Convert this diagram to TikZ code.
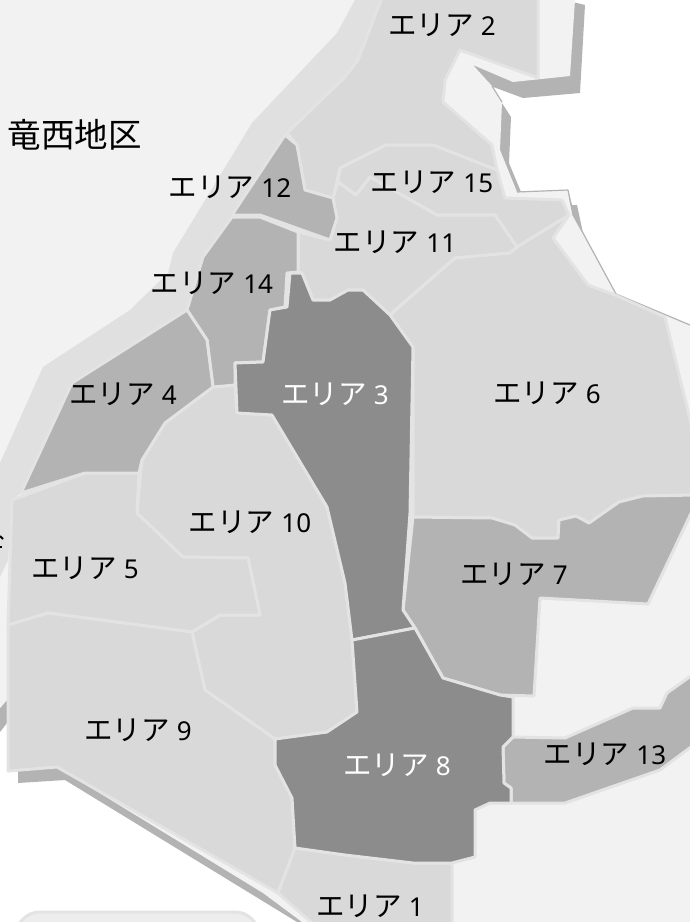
\documentclass[tikz,border=0pt]{standalone}
\usepackage{fontspec}
\setmainfont{Noto Sans CJK JP}
\newfontfamily\digitfont{Noto Sans}
\newcommand{\areaname}[1]{エリア\hspace{7pt}{\digitfont\fontsize{26}{30}\selectfont #1}}
\tikzset{
  x=1pt,y=-1pt,
  area/.style={draw=edgegrey,line width=3pt,line join=round},
  light/.style={area,fill=lightarea},
  mid/.style={area,fill=midarea},
  dark/.style={area,fill=darkarea},
  lab/.style={inner sep=0pt,font=\fontsize{28.5}{32}\selectfont,text=black},
  labw/.style={lab,text=white},
  shadow/.style={fill=shadowgrey},
}
\definecolor{edgegrey}{HTML}{E3E3E3}
\definecolor{lightarea}{HTML}{D9D9D9}
\definecolor{midarea}{HTML}{B3B3B3}
\definecolor{darkarea}{HTML}{8C8C8C}
\definecolor{shadowgrey}{HTML}{B3B3B3}
\definecolor{land}{HTML}{F2F2F2}
\definecolor{strip}{HTML}{E0E0E0}
\definecolor{boxfill}{HTML}{EDEDED}
\begin{document}
\begin{tikzpicture}
\path[use as bounding box,fill=white] (0,0) rectangle (690,922);
\begin{scope}
\clip (0,0) rectangle (690,922);
% shadows
\fill[shadow] (573,2) -- (585,5) -- (580,93) -- (523,98) -- (488,85) -- (473,65) -- cycle;
\fill[shadow] (500,100) -- (511,117) -- (509,163) -- (521,192) -- (568,190) -- (572,205) -- (577,205) -- (583,233) -- (500,200) -- cycle;
\fill[shadow] (0,708) -- (7,700) -- (10,771) -- (7,723) -- (0,732) -- cycle;
\fill[shadow] (18,765) -- (57,765) -- (263,890) -- (302,922) -- (297,922) -- (65,780) -- (18,783) -- cycle;
% land
\fill[land] (0,0) -- (575,0) -- (570,76) -- (513,82) -- (473,65) -- (492,86) -- (502,102) -- (500,150) -- (517,192) -- (568,190) -- (573,215) -- (583,233) -- (616,294) -- (690,325) -- (690,922) -- (302,922) -- (263,893) -- (57,767) -- (8,771) -- (7,700) -- (0,708) -- cycle;
\draw[shadowgrey,line width=1.2pt] (492,86) -- (502,102);
\draw[shadowgrey,line width=1.2pt] (568,190) -- (573,215) -- (583,233) -- (616,294) -- (690,325);
\draw[shadowgrey,line width=1.2pt] (517,192) -- (568,190);
% strip along the west side
\fill[strip] (355,0) -- (383,0) -- (358,60) -- (345,77) -- (287,133) -- (232,217) -- (190,310) -- (72,383) -- (21,493) -- (12,500) -- (8,560) -- (0,577) -- (0,463) -- (43,367) -- (130,310) -- (168,273) -- (173,253) -- (252,123) -- (337,33) -- cycle;
% light areas
\draw[light] (383,-5) -- (538,-5) -- (538,78) -- (460,50) -- (445,80) -- (443,102) -- (492,145) -- (497,170) -- (433,145) -- (386,145) -- (340,168) -- (333,198) -- (305,190) -- (297,145) -- (287,133) -- (345,77) -- (358,60) -- cycle;
\draw[light] (340,168) -- (386,145) -- (433,145) -- (497,170) -- (505,198) -- (562,200) -- (569,215) -- (517,247) -- (495,215) -- (437,215) -- (370,177) -- (356,195) -- (338,182) -- cycle;
\draw[light] (298,232) -- (330,240) -- (337,218) -- (333,198) -- (338,182) -- (356,195) -- (370,177) -- (437,215) -- (495,215) -- (517,247) -- (510,253) -- (455,258) -- (395,310) -- (390,315) -- (363,290) -- (348,290) -- (330,300) -- (313,300) -- (302,273) -- (298,272) -- cycle;
\draw[light] (390,315) -- (455,258) -- (510,253) -- (517,247) -- (569,215) -- (553,238) -- (588,285) -- (615,295) -- (665,317) -- (695,440) -- (695,495) -- (643,496) -- (619,502) -- (589,523) -- (576,516) -- (559,520) -- (558,538) -- (532,538) -- (515,525) -- (492,518) -- (413,517) -- (413,347) -- cycle;
\draw[light] (213,387) -- (235,385) -- (237,413) -- (272,415) -- (327,507) -- (345,583) -- (352,640) -- (357,712) -- (327,732) -- (275,739) -- (205,690) -- (192,632) -- (220,615) -- (260,615) -- (248,558) -- (183,557) -- (137,513) -- (142,460) -- (165,423) -- cycle;
\draw[light] (12,500) -- (85,473) -- (139,473) -- (137,513) -- (183,557) -- (248,558) -- (260,615) -- (220,615) -- (192,632) -- (48,613) -- (8,625) -- cycle;
\draw[light] (8,625) -- (48,613) -- (192,632) -- (205,690) -- (275,739) -- (275,765) -- (292,798) -- (295,848) -- (278,893) -- (57,767) -- (8,771) -- cycle;
\draw[light] (295,848) -- (345,855) -- (413,863) -- (452,863) -- (452,930) -- (320,930) -- (278,893) -- cycle;
% mid areas
\draw[mid] (232,215) -- (260,215) -- (330,240) -- (337,218) -- (333,198) -- (305,190) -- (297,145) -- (285,135) -- cycle;
\draw[mid] (232,217) -- (260,217) -- (298,232) -- (298,272) -- (287,273) -- (285,307) -- (270,310) -- (263,362) -- (235,363) -- (235,385) -- (213,387) -- (207,340) -- (187,310) -- (203,257) -- cycle;
\draw[mid] (187,310) -- (207,340) -- (213,387) -- (165,423) -- (142,460) -- (139,473) -- (85,473) -- (21,493) -- (72,383) -- cycle;
\draw[mid] (413,517) -- (492,518) -- (515,525) -- (532,538) -- (558,538) -- (559,520) -- (576,516) -- (589,523) -- (619,502) -- (643,496) -- (695,495) -- (695,505) -- (648,604) -- (540,598) -- (534,696) -- (500,695) -- (443,678) -- (415,628) -- (403,610) -- cycle;
\draw[mid] (513,737) -- (565,738) -- (633,708) -- (660,708) -- (667,693) -- (695,673) -- (695,744) -- (660,770) -- (565,803) -- (511,803) -- (511,788) -- (504,783) -- (503,747) -- cycle;
% dark areas
\draw[dark] (290,273) -- (302,273) -- (313,300) -- (330,300) -- (348,290) -- (363,290) -- (390,315) -- (413,347) -- (410,513) -- (403,610) -- (415,628) -- (352,640) -- (345,583) -- (327,507) -- (272,415) -- (237,413) -- (235,363) -- (263,362) -- (270,310) -- (287,307) -- cycle;
\draw[dark] (352,640) -- (415,628) -- (443,678) -- (500,695) -- (513,697) -- (513,737) -- (503,747) -- (504,783) -- (511,788) -- (511,803) -- (490,803) -- (475,810) -- (475,857) -- (452,863) -- (413,863) -- (345,855) -- (295,848) -- (292,798) -- (275,765) -- (275,739) -- (327,732) -- (357,712) -- cycle;
% rounded box at the foot
\draw[fill=boxfill,draw=edgegrey,line width=3pt,rounded corners=24pt] (16,960) -- (16,912) -- (259,912) -- (259,960);
% clipped-off label at the left border
\draw[black,line width=2pt] (0,536) -- (3,539);
\draw[black,line width=2pt] (0,547) -- (2,547);
\end{scope}
% labels
\node[lab,font=\fontsize{33.5}{38}\selectfont] (west) at (75,135) {竜西地区};
\node[lab] (a2) at (442,25) {\areaname{2}};
\node[lab] (a12) at (230,187) {\areaname{12}};
\node[lab] (a15) at (432,182) {\areaname{15}};
\node[lab] (a11) at (395,242) {\areaname{11}};
\node[lab] (a14) at (212,283) {\areaname{14}};
\node[lab] (a4) at (123,394) {\areaname{4}};
\node[labw] (a3) at (335,394) {\areaname{3}};
\node[lab] (a6) at (547,393) {\areaname{6}};
\node[lab] (a10) at (250,522) {\areaname{10}};
\node[lab] (a7) at (514,574) {\areaname{7}};
\node[lab] (a5) at (85,568) {\areaname{5}};
\node[lab] (a9) at (138,730) {\areaname{9}};
\node[labw] (a8) at (397,765) {\areaname{8}};
\node[lab] (a13) at (605,754) {\areaname{13}};
\node[lab] (a1) at (370,906) {\areaname{1}};
\end{tikzpicture}
\end{document}
